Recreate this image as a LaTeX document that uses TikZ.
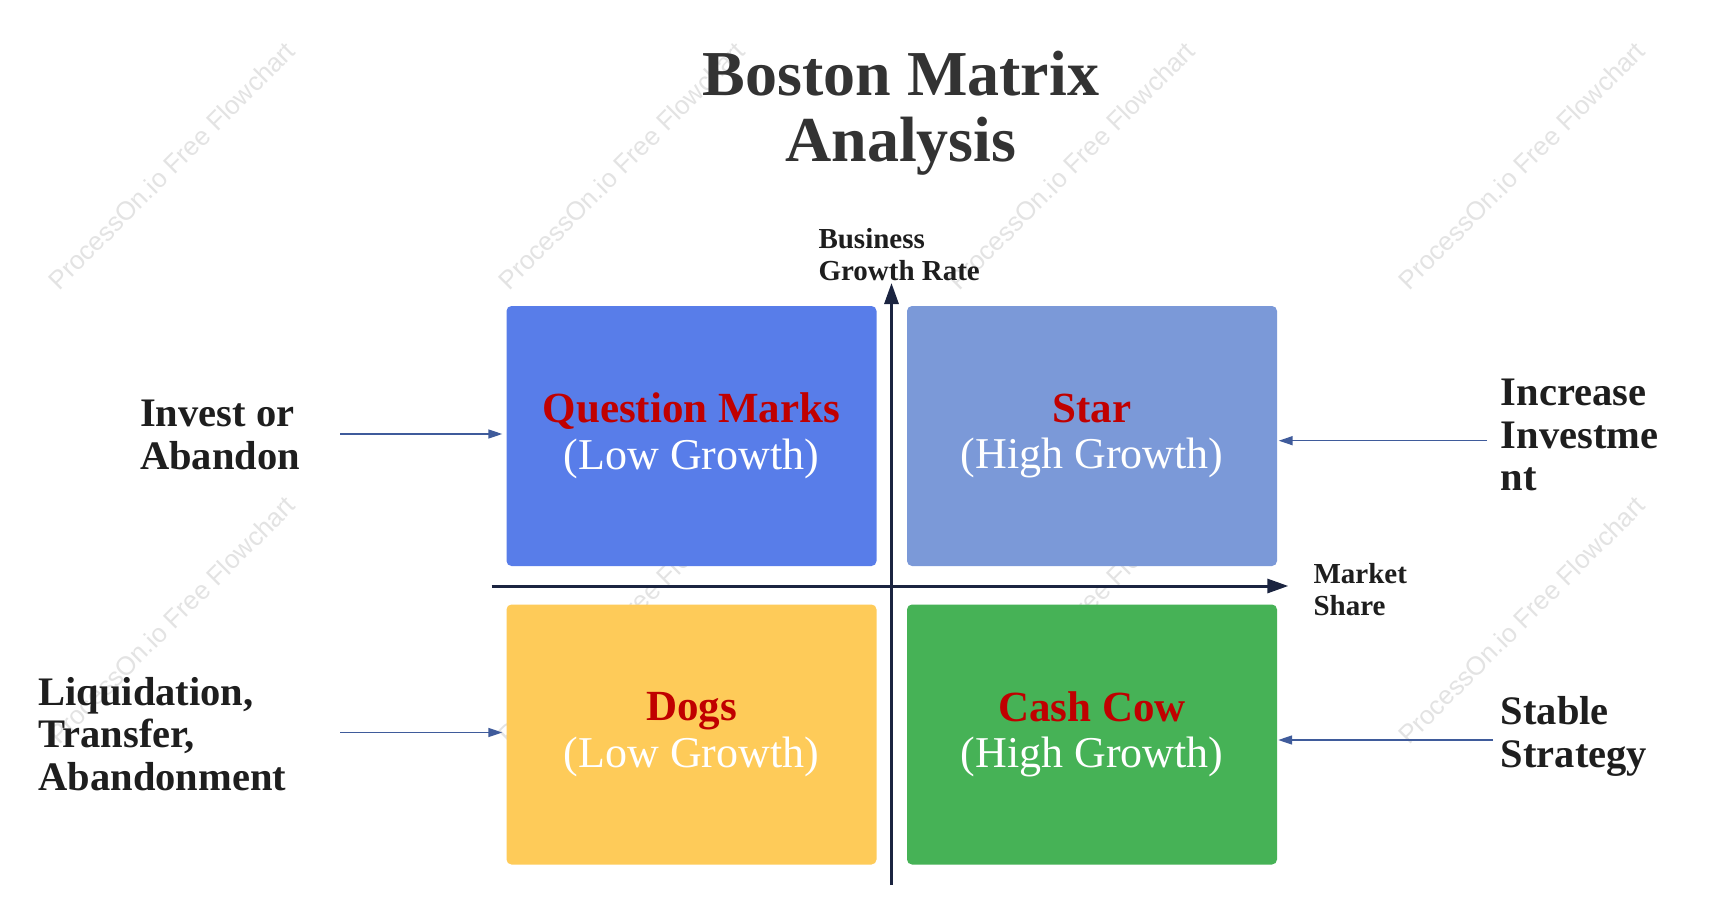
\documentclass[tikz,border=0pt]{standalone}
\usepackage{fontspec}
\setmainfont{Liberation Serif}
\setsansfont{Liberation Sans}
\usetikzlibrary{arrows.meta}
\definecolor{qmblue}{HTML}{587DE9}
\definecolor{starblue}{HTML}{7B99D8}
\definecolor{dogyellow}{HTML}{FECB59}
\definecolor{cowgreen}{HTML}{46B256}
\definecolor{quadred}{HTML}{C00000}
\definecolor{axisnavy}{HTML}{1B2440}
\definecolor{linkblue}{HTML}{3F5B9B}
\definecolor{labelgray}{HTML}{1E1E1E}
\definecolor{titlegray}{HTML}{333333}
\definecolor{wmgray}{HTML}{E3E3E3}
\tikzstyle{quad}=[rounded corners=5pt, inner sep=0pt, minimum width=370pt, minimum height=260pt, align=center, text=white, font=\fontsize{44}{46.6}\selectfont]
\tikzstyle{side}=[inner sep=0pt, align=left, anchor=base west, text=labelgray, font=\bfseries\fontsize{40.5}{42.5}\selectfont]
\tikzstyle{axlabel}=[inner sep=0pt, align=left, anchor=base west, text=labelgray, font=\bfseries\fontsize{29}{32}\selectfont]
\tikzstyle{axis}=[line width=3pt, draw=axisnavy, -{Triangle[length=21pt, width=14pt]}]
\tikzstyle{link}=[line width=1.5pt, draw=linkblue, -{Triangle[length=14pt, width=9pt]}]
\tikzstyle{wmark}=[rotate=45, inner sep=0pt, text=wmgray, font=\sffamily\fontsize{26}{26}\selectfont]
\newcommand{\qtitle}[1]{{\color{quadred}\bfseries\fontsize{43}{46.6}\selectfont #1}}

\begin{document}
\begin{tikzpicture}[x=1pt, y=-1pt]
        \fill[white] (0,0) rectangle (1717,923);
        \useasboundingbox (0,0) rectangle (1717,923);
        % watermark
        \node[wmark] (W11) at (171.5, 165.5) {ProcessOn.io Free Flowchart};
        \node[wmark] (W21) at (621.5, 165.5) {ProcessOn.io Free Flowchart};
        \node[wmark] (W31) at (1071.5, 165.5) {ProcessOn.io Free Flowchart};
        \node[wmark] (W41) at (1521.5, 165.5) {ProcessOn.io Free Flowchart};
        \node[wmark] (W12) at (171.5, 620) {ProcessOn.io Free Flowchart};
        \node[wmark] (W22) at (621.5, 620) {ProcessOn.io Free Flowchart};
        \node[wmark] (W32) at (1071.5, 620) {ProcessOn.io Free Flowchart};
        \node[wmark] (W42) at (1521.5, 620) {ProcessOn.io Free Flowchart};
        % title
        \node[inner sep=0pt, align=center, anchor=base, text=titlegray, font=\bfseries\fontsize{64}{65.7}\selectfont] (T) at (900.8, 161.7) {Boston Matrix\\Analysis};
        % quadrants
        \node[quad, fill=qmblue]    (QM) at (691.5, 436)   {\qtitle{Question Marks}\\(Low Growth)};
        \node[quad, fill=starblue]  (ST) at (1092, 436)    {\qtitle{Star}\\(High Growth)};
        \node[quad, fill=dogyellow] (DG) at (691.5, 734.5) {\qtitle{Dogs}\\(Low Growth)};
        \node[quad, fill=cowgreen]  (CC) at (1092, 734.5)  {\qtitle{Cash Cow}\\(High Growth)};
        % axes
        \coordinate (X0) at (491.7, 586);
        \coordinate (X1) at (1288.3, 586);
        \coordinate (Y0) at (891.5, 885);
        \coordinate (Y1) at (891.5, 283);
        \draw[axis] (X0) -- (X1);
        \draw[axis] (Y0) -- (Y1);
        \node[axlabel] (AY) at (818.3, 280) {Business\\Growth Rate};
        \node[axlabel] (AX) at (1313.3, 615) {Market\\Share};
        % strategies
        \node[side] (L1) at (140, 469)    {Invest or\\Abandon};
        \node[side] (L2) at (38.3, 790)   {Liquidation,\\Transfer,\\Abandonment};
        \node[side] (R1) at (1500.7, 490.7) {Increase\\Investme\\nt};
        \node[side] (R2) at (1500.7, 767.3) {Stable\\Strategy};
        \coordinate (IA) at (340, 434);
        \coordinate (DA) at (340, 732.5);
        \coordinate (SA) at (1487, 440.7);
        \coordinate (CA) at (1493, 740);
        \draw[link] (IA) -- ([xshift=-4pt]IA -| QM.west);
        \draw[link] (DA) -- ([xshift=-4pt]DA -| DG.west);
        \draw[link] (SA) -- ([xshift=1.5pt]SA -| ST.east);
        \draw[link] (CA) -- ([xshift=1pt]CA -| CC.east);
    \end{tikzpicture}
\end{document}
